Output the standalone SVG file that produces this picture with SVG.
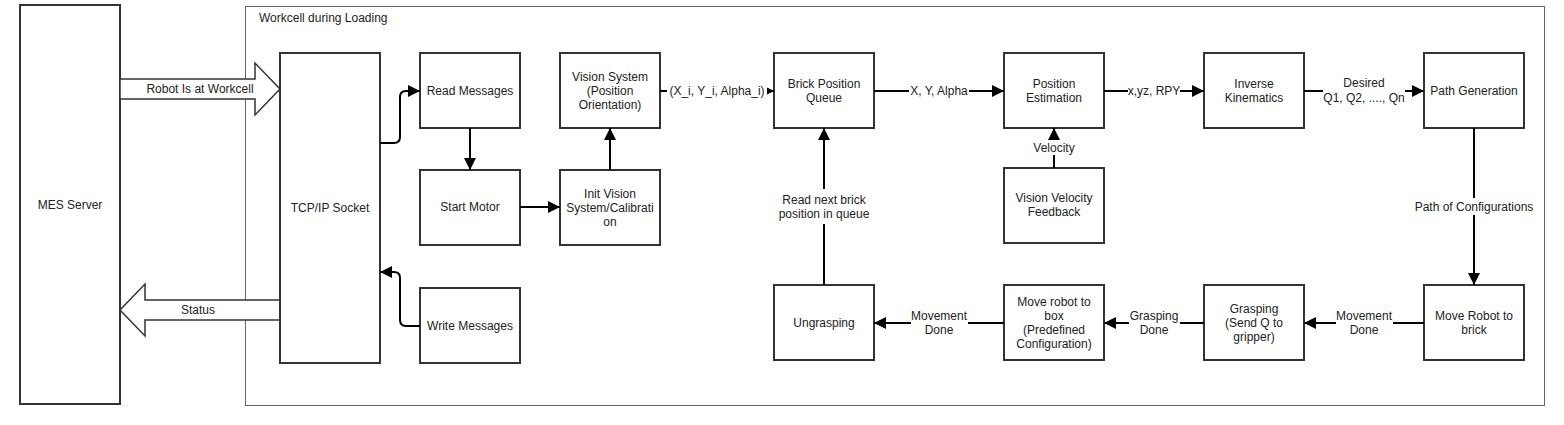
<svg xmlns="http://www.w3.org/2000/svg" width="1564" height="425" viewBox="0 0 1564 425">
<defs>
<marker id="ah" markerUnits="userSpaceOnUse" markerWidth="13" markerHeight="13" refX="12" refY="6.5" orient="auto">
<path d="M0,0.5 L12,6.5 L0,12.5 z" fill="#000"/>
</marker>
<style>
.box{fill:#fff;stroke:#333;stroke-width:2}
.cont{fill:#fff;stroke:#666;stroke-width:1}
.blk{fill:#fff;stroke:#333;stroke-width:1.5}
.t{font-family:"Liberation Sans",Arial,sans-serif;font-size:12px;fill:#222;text-anchor:middle;dominant-baseline:central}
.tl{font-family:"Liberation Sans",Arial,sans-serif;font-size:12px;fill:#222;text-anchor:start;dominant-baseline:central}
.c{fill:none;stroke:#000;stroke-width:2;marker-end:url(#ah)}
.lb{fill:#fff;stroke:none}
</style>
</defs>
<rect width="1564" height="425" fill="#fff"/>

<g id="mes-server">
<rect class="box" x="20" y="5" width="100" height="399"/>
<text class="t" x="70" y="205">MES Server</text>
</g>

<g id="workcell">
<rect class="cont" x="245.5" y="6.5" width="1299" height="399"/>
<text class="tl" x="259" y="18">Workcell during Loading</text>
</g>

<g id="robot-at-workcell-arrow">
<polygon class="blk" points="120,79 255,79 255,63 280,89 255,115 255,99 120,99"/>
<text class="t" x="200" y="89">Robot Is at Workcell</text>
</g>

<g id="status-arrow">
<polygon class="blk" points="280,300 145,300 145,284 120,310 145,336 145,320 280,320"/>
<text class="t" x="198" y="310">Status</text>
</g>

<g id="tcp-socket">
<rect class="box" x="280" y="53" width="100" height="310"/>
<text class="t" x="330" y="208">TCP/IP Socket</text>
</g>

<g id="read-messages">
<rect class="box" x="420" y="53" width="100" height="75"/>
<text class="t" x="470" y="91">Read Messages</text>
</g>

<g id="start-motor">
<rect class="box" x="420" y="170" width="100" height="75"/>
<text class="t" x="470" y="207">Start Motor</text>
</g>

<g id="write-messages">
<rect class="box" x="420" y="288" width="100" height="75"/>
<text class="t" x="470" y="326">Write Messages</text>
</g>

<g id="vision-system">
<rect class="box" x="560" y="53" width="100" height="75"/>
<text class="t" x="610" y="77">Vision System</text>
<text class="t" x="610" y="91">(Position</text>
<text class="t" x="610" y="105">Orientation)</text>
</g>

<g id="init-vision">
<rect class="box" x="560" y="170" width="100" height="75"/>
<text class="t" x="610" y="194">Init Vision</text>
<text class="t" x="610" y="208">System/Calibrati</text>
<text class="t" x="610" y="222">on</text>
</g>

<g id="brick-queue">
<rect class="box" x="774" y="53" width="100" height="75"/>
<text class="t" x="824" y="84">Brick Position</text>
<text class="t" x="824" y="98">Queue</text>
</g>

<g id="position-estimation">
<rect class="box" x="1004" y="53" width="100" height="75"/>
<text class="t" x="1054" y="84">Position</text>
<text class="t" x="1054" y="98">Estimation</text>
</g>

<g id="vision-velocity">
<rect class="box" x="1004" y="168" width="100" height="75"/>
<text class="t" x="1054" y="198">Vision Velocity</text>
<text class="t" x="1054" y="212">Feedback</text>
</g>

<g id="inverse-kinematics">
<rect class="box" x="1204" y="53" width="100" height="75"/>
<text class="t" x="1254" y="84">Inverse</text>
<text class="t" x="1254" y="98">Kinematics</text>
</g>

<g id="path-generation">
<rect class="box" x="1424" y="53" width="100" height="75"/>
<text class="t" x="1474" y="91">Path Generation</text>
</g>

<g id="move-robot-brick">
<rect class="box" x="1424" y="285" width="100" height="75"/>
<text class="t" x="1474" y="316">Move Robot to</text>
<text class="t" x="1474" y="330">brick</text>
</g>

<g id="grasping">
<rect class="box" x="1204" y="285" width="100" height="75"/>
<text class="t" x="1254" y="309">Grasping</text>
<text class="t" x="1254" y="323">(Send Q to</text>
<text class="t" x="1254" y="337">gripper)</text>
</g>

<g id="move-robot-box">
<rect class="box" x="1004" y="285" width="100" height="75"/>
<text class="t" x="1054" y="302">Move robot to</text>
<text class="t" x="1054" y="316">box</text>
<text class="t" x="1054" y="330">(Predefined</text>
<text class="t" x="1054" y="344">Configuration)</text>
</g>

<g id="ungrasping">
<rect class="box" x="774" y="285" width="100" height="75"/>
<text class="t" x="824" y="323">Ungrasping</text>
</g>

<g id="connectors">
<path class="c" d="M380,143 L394,143 Q400,143 400,137 L400,97 Q400,91 406,91 L420,91"/>
<path class="c" d="M420,326 L406,326 Q400,326 400,320 L400,278 Q400,272 394,272 L380,272"/>
<path class="c" d="M470,128 L470,170"/>
<path class="c" d="M520,207 L560,207"/>
<path class="c" d="M610,170 L610,128"/>
<path class="c" d="M660,91 L774,91"/>
<path class="c" d="M874,91 L1004,91"/>
<path class="c" d="M1104,91 L1204,91"/>
<path class="c" d="M1304,91 L1424,91"/>
<path class="c" d="M1054,168 L1054,128"/>
<path class="c" d="M1474,128 L1474,285"/>
<path class="c" d="M1424,323 L1304,323"/>
<path class="c" d="M1204,323 L1104,323"/>
<path class="c" d="M1004,323 L874,323"/>
<path class="c" d="M824,285 L824,128"/>

<rect class="lb" x="667" y="84" width="100" height="15"/>
<text class="t" x="717" y="91">(X_i, Y_i, Alpha_i)</text>
<rect class="lb" x="909" y="84" width="60" height="15"/>
<text class="t" x="939" y="91">X, Y, Alpha</text>
<rect class="lb" x="1128" y="84" width="52" height="15"/>
<text class="t" x="1154" y="91">x,yz, RPY</text>
<rect class="lb" x="1323" y="76" width="82" height="29"/>
<text class="t" x="1364" y="83">Desired</text>
<text class="t" x="1364" y="98">Q1, Q2, ...., Qn</text>
<rect class="lb" x="1030" y="140" width="48" height="15"/>
<text class="t" x="1054" y="148">Velocity</text>
<rect class="lb" x="776" y="189" width="96" height="35"/>
<text class="t" x="824" y="200">Read next brick</text>
<text class="t" x="824" y="214">position in queue</text>
<rect class="lb" x="1412" y="198" width="124" height="17"/>
<text class="t" x="1474" y="207">Path of Configurations</text>
<rect class="lb" x="1336" y="309" width="57" height="28"/>
<text class="t" x="1364" y="316">Movement</text>
<text class="t" x="1364" y="330">Done</text>
<rect class="lb" x="1129" y="309" width="51" height="28"/>
<text class="t" x="1154" y="316">Grasping</text>
<text class="t" x="1154" y="330">Done</text>
<rect class="lb" x="911" y="309" width="57" height="28"/>
<text class="t" x="939" y="316">Movement</text>
<text class="t" x="939" y="330">Done</text>
</g>
</svg>
